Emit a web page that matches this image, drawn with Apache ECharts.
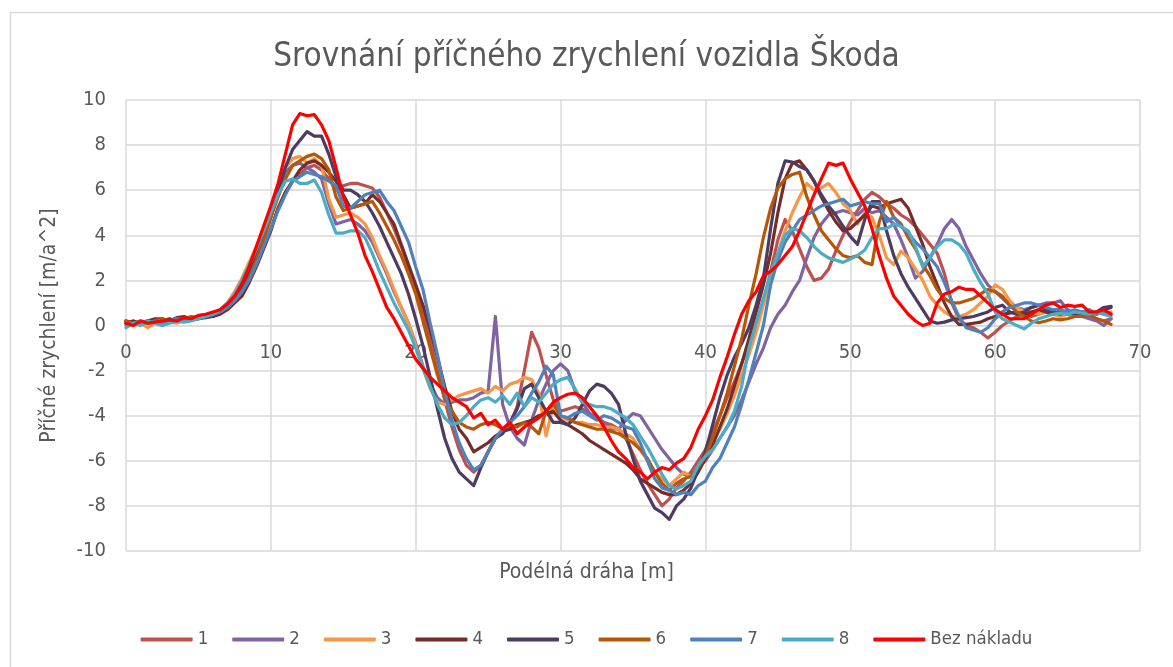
<!DOCTYPE html>
<html>
<head>
<meta charset="utf-8">
<title>Srovnání příčného zrychlení vozidla Škoda</title>
<script src="https://cdn.jsdelivr.net/npm/echarts@6/dist/echarts.min.js"></script>
<style>
  html, body { margin: 0; padding: 0; background: #fff; }
  #chart { width: 1173px; height: 667px; }
</style>
</head>
<body>
<div id="chart"></div>
<script>
// podélná dráha [m] – společná osa x pro všechny jízdy
const draha = [
  0, 0.5, 1, 1.5, 2, 2.5, 3, 3.5, 4, 4.5,
  5, 5.5, 6, 6.5, 7, 7.5, 8, 8.5, 9, 9.5,
  10, 10.5, 11, 11.5, 12, 12.5, 13, 13.5, 14, 14.5,
  15, 15.5, 16, 16.5, 17, 17.5, 18, 18.5, 19, 19.5,
  20, 20.5, 21, 21.5, 22, 22.5, 23, 23.5, 24, 24.5,
  25, 25.5, 26, 26.5, 27, 27.5, 28, 28.5, 29, 29.5,
  30, 30.5, 31, 31.5, 32, 32.5, 33, 33.5, 34, 34.5,
  35, 35.5, 36, 36.5, 37, 37.5, 38, 38.5, 39, 39.5,
  40, 40.5, 41, 41.5, 42, 42.5, 43, 43.5, 44, 44.5,
  45, 45.5, 46, 46.5, 47, 47.5, 48, 48.5, 49, 49.5,
  50, 50.5, 51, 51.5, 52, 52.5, 53, 53.5, 54, 54.5,
  55, 55.5, 56, 56.5, 57, 57.5, 58, 58.5, 59, 59.5,
  60, 60.5, 61, 61.5, 62, 62.5, 63, 63.5, 64, 64.5,
  65, 65.5, 66, 66.5, 67, 67.5, 68
];

// příčné zrychlení jednotlivých jízd
const jizda1 = [
  0.2, 0.1, 0.15, 0.2, 0.1, 0.25, 0.2, 0.3, 0.25, 0.3,
  0.35, 0.4, 0.5, 0.6, 0.8, 1.1, 1.5, 2.1, 2.8, 3.5,
  4.3, 5.2, 5.9, 6.4, 6.7, 7.0, 7.1, 6.9, 6.5, 6.0,
  6.2, 6.3, 6.3, 6.2, 6.1, 5.7, 5.0, 4.3, 3.5, 2.6,
  1.6, 0.5, -0.7, -2.0, -3.3, -4.5, -5.5, -6.2, -6.5, -6.2,
  -5.6, -5.0, -4.6, -4.4, -3.6, -2.0, -0.3, -1.0, -2.2, -3.3,
  -3.8, -3.7, -3.6, -3.7, -3.9, -4.1, -4.3, -4.4, -4.6, -5.0,
  -5.7, -6.4, -7.0, -7.5, -8.0, -7.7, -7.2, -6.9, -6.5, -6.0,
  -5.5, -4.7, -4.0, -3.2, -2.5, -1.7, -0.8, 0.1, 1.0, 2.4,
  3.8, 4.7, 4.2, 3.4, 2.6, 2.0, 2.1, 2.5, 3.3, 4.0,
  4.6, 5.1, 5.6, 5.9, 5.7, 5.4, 5.2, 4.9, 4.7, 4.4,
  4.0, 3.6, 3.2, 2.3, 1.0, 0.3, 0.0, -0.1, -0.3, -0.55,
  -0.3, 0.0, 0.2, 0.4, 0.5, 0.4, 0.5, 0.6, 0.5, 0.6,
  0.5, 0.4, 0.5, 0.4, 0.3, 0.2, 0.3
];
const jizda2 = [
  0.1, 0.2, 0.1, 0.2, 0.15, 0.25, 0.2, 0.3, 0.2, 0.3,
  0.4, 0.4, 0.5, 0.6, 0.9, 1.3, 1.8, 2.5, 3.3, 4.1,
  5.1, 6.0, 6.8, 7.1, 7.2, 7.0, 6.8, 6.5, 5.4, 4.5,
  4.6, 4.7, 4.5, 4.2, 3.7, 3.0, 2.3, 1.5, 0.8, 0.1,
  -0.8, -1.8, -2.6, -3.2, -3.5, -3.4, -3.3, -3.3, -3.2, -3.0,
  -2.9, 0.4, -3.5, -4.5, -5.0, -5.3, -4.2, -3.3, -2.6, -2.0,
  -1.7, -2.0, -2.9, -3.4, -3.9, -4.1, -4.3, -4.6, -4.6, -4.2,
  -3.9, -4.0, -4.5, -5.0, -5.5, -5.9, -6.3, -6.6, -6.6, -6.3,
  -6.0, -5.5, -5.0, -4.5, -4.0, -3.3, -2.5, -1.7, -1.0, -0.1,
  0.5, 0.9, 1.5, 2.0, 3.0, 3.9, 4.5, 4.9, 5.0, 5.1,
  5.0, 4.9, 5.2, 5.0, 5.1, 4.8, 4.5, 3.8, 3.0, 2.1,
  2.4, 3.0, 3.6, 4.3, 4.7, 4.3, 3.5, 2.9, 2.3, 1.8,
  1.5, 1.2, 0.9, 0.8, 0.7, 0.8, 0.9, 1.0, 1.0, 1.1,
  0.7, 0.5, 0.4, 0.3, 0.2, 0.0, 0.3
];
const jizda3 = [
  0.2, 0.0, 0.1, -0.1, 0.1, 0.0, 0.15, 0.1, 0.2, 0.3,
  0.3, 0.4, 0.5, 0.7, 1.0, 1.5, 2.1, 2.8, 3.5, 4.3,
  5.3, 6.2, 7.0, 7.4, 7.5, 7.2, 7.4, 7.1, 5.6, 4.8,
  4.9, 5.0, 4.8, 4.5, 3.9, 3.1, 2.4, 1.6, 0.8, 0.1,
  -0.9, -1.9, -2.8, -3.4, -3.5, -3.3, -3.1, -3.0, -2.9, -2.8,
  -3.0, -2.7, -2.9, -2.6, -2.5, -2.3, -2.4, -3.0, -4.9, -3.5,
  -4.0, -4.2, -4.3, -4.3, -4.4, -4.4, -4.5, -4.5, -4.6, -4.8,
  -5.0, -5.5, -6.0, -6.5, -6.8, -7.1, -6.8, -6.5, -6.7, -6.3,
  -5.8, -5.2, -4.6, -3.9, -3.1, -2.2, -1.3, -0.3, 0.9, 2.1,
  3.2, 4.2, 5.0, 5.7, 6.3, 6.0, 6.1, 6.3, 5.9, 5.4,
  5.1, 4.5, 5.0, 4.8, 4.0, 3.0, 2.7, 3.3, 3.0, 2.5,
  2.0, 1.3, 0.9, 0.6, 0.4, 0.4, 0.5, 0.7, 1.0, 1.3,
  1.8, 1.6, 1.1, 0.8, 0.6, 0.6, 0.5, 0.6, 0.5, 0.4,
  0.5, 0.5, 0.6, 0.5, 0.6, 0.5, 0.6
];
const jizda4 = [
  0.1, 0.2, 0.1, 0.2, 0.3, 0.3, 0.2, 0.35, 0.4, 0.3,
  0.3, 0.4, 0.4, 0.5, 0.7, 1.0, 1.3, 1.9, 2.6, 3.4,
  4.2, 5.2, 5.9, 6.4, 6.9, 7.2, 7.3, 7.1, 6.8, 6.4,
  5.8, 5.2, 5.3, 5.4, 5.8, 5.5, 5.0, 4.5, 3.6, 2.7,
  1.8, 0.9, -0.2, -1.4, -2.7, -3.8, -4.6, -5.0, -5.6, -5.4,
  -5.2, -4.9, -4.7, -4.6, -4.4, -4.3, -4.2, -4.0, -3.9, -3.8,
  -4.2, -4.4, -4.6, -4.8, -5.1, -5.3, -5.5, -5.7, -5.9, -6.1,
  -6.4, -6.8, -7.0, -7.2, -7.4, -7.5, -7.5, -7.3, -7.0, -6.5,
  -5.9, -5.3, -4.5, -3.7, -2.7, -1.7, -0.6, 0.6, 1.8, 3.2,
  5.0, 6.5, 7.2, 7.3, 6.9, 6.4, 5.7, 5.1, 4.6, 4.2,
  4.3, 4.6, 4.9, 5.3, 5.2, 5.4, 5.5, 5.6, 5.2, 4.4,
  3.6, 2.6, 1.8, 1.0, 0.4, 0.05, 0.05, 0.1, 0.15, 0.3,
  0.4, 0.5, 0.55, 0.6, 0.5, 0.6, 0.7, 0.6, 0.5, 0.6,
  0.5, 0.6, 0.5, 0.6, 0.5, 0.7, 0.8
];
const jizda5 = [
  0.2, 0.1, 0.15, 0.1, 0.25, 0.2, 0.3, 0.2, 0.3, 0.25,
  0.3, 0.35, 0.4, 0.6, 0.8, 1.1, 1.6, 2.3, 3.0, 3.9,
  4.8, 5.9, 7.0, 7.8, 8.2, 8.6, 8.4, 8.4, 7.6, 6.6,
  6.0, 6.0, 5.8, 5.5, 5.0, 4.4, 3.7, 3.0, 2.3, 1.4,
  0.3, -0.9, -2.3, -3.7, -5.0, -5.9, -6.5, -6.8, -7.1, -6.3,
  -5.6, -5.0, -4.8, -4.3, -3.7, -2.8, -2.6, -3.2, -3.8, -4.3,
  -4.3, -4.4, -4.1, -3.5, -2.9, -2.6, -2.7, -3.0, -3.5, -4.8,
  -5.9, -6.9, -7.5, -8.1, -8.3, -8.6, -8.0, -7.7, -7.2, -6.4,
  -5.6, -4.4, -3.2, -2.2, -1.4, -0.8, -0.1, 0.9, 2.1, 4.3,
  6.3, 7.3, 7.25, 7.05, 6.9, 6.4, 5.8, 5.3, 4.9, 4.4,
  3.95, 3.6, 4.7, 5.5, 5.5, 4.2, 3.1, 2.3, 1.7, 1.2,
  0.7, 0.2, 0.1, 0.15, 0.25, 0.3, 0.35, 0.4, 0.5, 0.6,
  0.8, 0.9, 0.6, 0.5, 0.6, 0.8, 0.9, 0.7, 0.6, 0.5,
  0.6, 0.5, 0.6, 0.5, 0.6, 0.8, 0.85
];
const jizda6 = [
  0.2, 0.1, 0.2, 0.15, 0.2, 0.3, 0.2, 0.3, 0.3, 0.4,
  0.35, 0.4, 0.5, 0.6, 0.8, 1.1, 1.5, 2.1, 2.9, 3.8,
  4.8, 5.7, 6.5, 7.1, 7.3, 7.5, 7.6, 7.4, 6.9, 5.7,
  5.1, 5.2, 5.3, 5.4, 5.5, 5.0, 4.4, 3.8, 3.1, 2.3,
  1.4, 0.2, -1.0, -2.2, -3.2, -3.8, -4.3, -4.5, -4.6, -4.4,
  -4.3, -4.4, -4.6, -4.4, -4.5, -4.3, -4.5, -4.8, -3.8, -3.5,
  -4.0, -4.1, -4.3, -4.4, -4.5, -4.6, -4.6, -4.7, -4.8, -5.0,
  -5.2, -5.5, -5.9, -6.5, -7.0, -7.3, -7.0, -6.8, -6.7, -6.3,
  -5.8, -5.0, -4.0, -3.0, -1.8, -0.6, 0.9, 2.3, 3.9, 5.2,
  6.1, 6.5, 6.7, 6.8, 5.7, 4.9, 4.2, 3.8, 3.4, 3.1,
  3.0, 3.1, 2.8, 2.7, 4.6, 5.5, 4.8, 4.5, 3.9, 3.4,
  2.7, 2.2, 1.6, 1.2, 1.0, 1.0, 1.1, 1.2, 1.4, 1.6,
  1.5, 1.3, 0.9, 0.6, 0.4, 0.2, 0.12, 0.2, 0.3, 0.25,
  0.3, 0.4, 0.4, 0.5, 0.3, 0.2, 0.05
];
const jizda7 = [
  0.0, 0.1, 0.2, 0.1, 0.2, 0.1, 0.2, 0.3, 0.2, 0.3,
  0.4, 0.4, 0.5, 0.6, 0.8, 1.1, 1.5, 2.0, 2.7, 3.5,
  4.3, 5.1, 5.8, 6.4, 6.6, 6.8, 6.7, 6.6, 6.4, 6.2,
  5.3, 5.2, 5.5, 5.8, 5.9, 6.0, 5.5, 5.1, 4.4, 3.7,
  2.6, 1.6, 0.1, -1.3, -2.9, -4.2, -5.2, -5.9, -6.4, -6.2,
  -5.6, -5.0, -4.6, -4.3, -4.0, -3.6, -3.0, -2.5, -1.8, -2.2,
  -4.0, -4.1, -3.9, -3.8, -4.0, -4.2, -4.0, -4.1, -4.3, -4.5,
  -4.6, -5.2, -6.0, -6.8, -7.2, -7.3, -7.5, -7.4, -7.5, -7.1,
  -6.9, -6.3, -5.9, -5.2, -4.5, -3.5, -2.4, -1.2, 0.0, 1.8,
  2.9, 3.7, 4.2, 4.7, 4.9, 5.1, 5.3, 5.4, 5.5, 5.6,
  5.3, 5.4, 5.5, 5.4, 5.4, 4.6, 4.8, 4.4, 4.1, 3.7,
  3.4, 3.0, 2.6, 1.9, 1.1, 0.4, -0.1, -0.2, -0.3, -0.1,
  0.3, 0.6, 0.8, 0.9, 1.0, 1.0, 0.9, 0.8, 0.7, 0.7,
  0.6, 0.7, 0.6, 0.7, 0.5, 0.6, 0.5
];
const jizda8 = [
  -0.1, 0.1, 0.0, 0.2, 0.1, 0.0, 0.1, 0.2, 0.15, 0.2,
  0.3, 0.4, 0.5, 0.7, 1.0, 1.4, 2.0, 2.7, 3.4, 4.2,
  5.0, 5.8, 6.4, 6.5, 6.3, 6.3, 6.45, 5.9, 4.9, 4.1,
  4.1, 4.2, 4.2, 3.9, 3.2, 2.4, 1.7, 1.0, 0.4, -0.2,
  -1.0, -1.9, -2.7, -3.5, -4.1, -4.4, -4.3, -4.0, -3.6, -3.3,
  -3.2, -3.4, -3.1, -3.5, -3.0, -3.6, -3.2, -3.4, -3.0, -2.6,
  -2.4, -2.3, -2.8, -3.4, -3.5, -3.6, -3.6, -3.7, -3.9, -4.1,
  -4.4, -4.9, -5.4, -6.0, -6.6, -7.1, -7.25, -7.1, -6.9, -6.2,
  -5.8, -5.5, -5.0, -4.5, -3.8, -2.7, -1.0, 0.1, 1.2, 2.3,
  3.2, 4.0, 4.3, 4.2, 3.9, 3.5, 3.2, 3.0, 2.9, 2.8,
  2.95, 3.1, 3.35, 3.9, 4.3, 4.3, 4.5, 4.4, 4.2, 3.5,
  2.6, 3.0, 3.5, 3.8, 3.8, 3.6, 3.2, 2.5, 1.9, 1.4,
  0.6, 0.3, 0.15, 0.0, -0.15, 0.1, 0.3, 0.4, 0.5, 0.55,
  0.5, 0.6, 0.55, 0.5, 0.6, 0.5, 0.4
];
const bezNakladu = [
  0.1, 0.0, 0.2, 0.1, 0.15, 0.2, 0.25, 0.2, 0.35, 0.3,
  0.45, 0.5, 0.6, 0.7, 0.95, 1.3, 1.85, 2.6, 3.5, 4.4,
  5.3, 6.3, 7.6, 8.9, 9.4, 9.3, 9.35, 8.9, 8.2, 7.0,
  5.7, 4.9, 4.1, 3.1, 2.4, 1.6, 0.8, 0.3, -0.3, -0.9,
  -1.5, -1.9, -2.3, -2.6, -2.9, -3.2, -3.4, -3.6, -4.1, -3.9,
  -4.4, -4.2, -4.6, -4.3, -4.8, -4.5, -4.3, -4.1, -3.8, -3.4,
  -3.2, -3.05, -3.0, -3.2, -3.6, -4.0, -4.5, -5.1, -5.6, -5.9,
  -6.3, -6.5, -6.8, -6.5, -6.3, -6.4, -6.1, -5.9, -5.4, -4.6,
  -4.0, -3.3, -2.3, -1.4, -0.4, 0.5, 1.1, 1.5, 2.2, 2.4,
  2.7, 3.1, 3.5, 4.2, 5.0, 5.8, 6.5, 7.2, 7.1, 7.2,
  6.5, 5.9, 5.3, 4.3, 3.1, 2.1, 1.3, 0.9, 0.5, 0.2,
  0.0, 0.1, 1.0, 1.4, 1.5, 1.7, 1.6, 1.6, 1.3, 1.0,
  0.7, 0.5, 0.3, 0.3, 0.3, 0.5, 0.7, 0.9, 1.0, 0.8,
  0.9, 0.85, 0.9, 0.6, 0.6, 0.7, 0.5
];

const nazvy = ['1', '2', '3', '4', '5', '6', '7', '8', 'Bez nákladu'];
const barvy = ['#C0504D', '#8064A2', '#F79646', '#772C2A', '#4D3B62', '#B65708', '#4F81BD', '#4BACC6', '#FF0000'];
const jizdy = [jizda1, jizda2, jizda3, jizda4, jizda5, jizda6, jizda7, jizda8, bezNakladu];

const FONT = '"DejaVu Sans Condensed", "Liberation Sans Narrow", sans-serif';
const SEDA = '#595959';
const MRIZKA = '#d9d9d9';

const chart = echarts.init(document.getElementById('chart'), null, { renderer: 'canvas' });

const option = {
  animation: false,
  backgroundColor: '#fff',
  color: barvy,
  textStyle: { fontFamily: FONT },
  title: {
    text: 'Srovnání příčného zrychlení vozidla Škoda',
    left: 'center',
    top: 36,
    textStyle: { fontFamily: FONT, fontSize: 33, fontWeight: 'normal', color: SEDA }
  },
  legend: {
    data: nazvy,
    left: 'center',
    top: 625,
    icon: 'roundRect',
    itemWidth: 52,
    itemHeight: 4,
    itemGap: 24,
    textStyle: { fontFamily: FONT, fontSize: 18.5, color: SEDA }
  },
  grid: {
    left: 126,
    right: 33,
    top: 100,
    bottom: 116,
    containLabel: false
  },
  xAxis: {
    type: 'value',
    min: 0,
    max: 70,
    interval: 10,
    // osa x leží na nule – posun od spodního okraje mřížky
    offset: -225.5,
    axisLine: { show: true, onZero: false, lineStyle: { color: MRIZKA, width: 1.5 } },
    axisTick: { show: false },
    axisLabel: { fontFamily: FONT, fontSize: 20, color: SEDA, margin: 17 },
    splitLine: { show: true, lineStyle: { color: MRIZKA, width: 1.5 } }
  },
  yAxis: {
    type: 'value',
    min: -10,
    max: 10,
    interval: 2,
    name: 'Příčné zrychlení [m/a^2]',
    nameLocation: 'middle',
    nameGap: 66,
    nameTextStyle: { fontFamily: FONT, fontSize: 21, color: SEDA },
    axisLine: { show: false },
    axisTick: { show: false },
    axisLabel: { fontFamily: FONT, fontSize: 20, color: SEDA, margin: 20 },
    splitLine: { show: true, lineStyle: { color: MRIZKA, width: 1.5 } }
  },
  graphic: [
    {
      type: 'rect',
      left: 8,
      top: 10,
      silent: true,
      z: -10,
      shape: { width: 1180, height: 700 },
      style: { fill: 'none', stroke: MRIZKA, lineWidth: 1.5 }
    },
    {
      type: 'text',
      left: 'center',
      top: 562,
      silent: true,
      style: { text: 'Podélná dráha [m]', font: '21px ' + FONT, fill: SEDA }
    }
  ],
  series: jizdy.map((hodnoty, i) => ({
    name: nazvy[i],
    type: 'line',
    symbol: 'none',
    smooth: false,
    data: draha.map((x, k) => [x, hodnoty[k]]),
    lineStyle: { width: 3.2, color: barvy[i], join: 'round', cap: 'round' },
    itemStyle: { color: barvy[i] },
    z: 2 + i
  }))
};

chart.setOption(option);
window.addEventListener('resize', () => chart.resize());
</script>
</body>
</html>
